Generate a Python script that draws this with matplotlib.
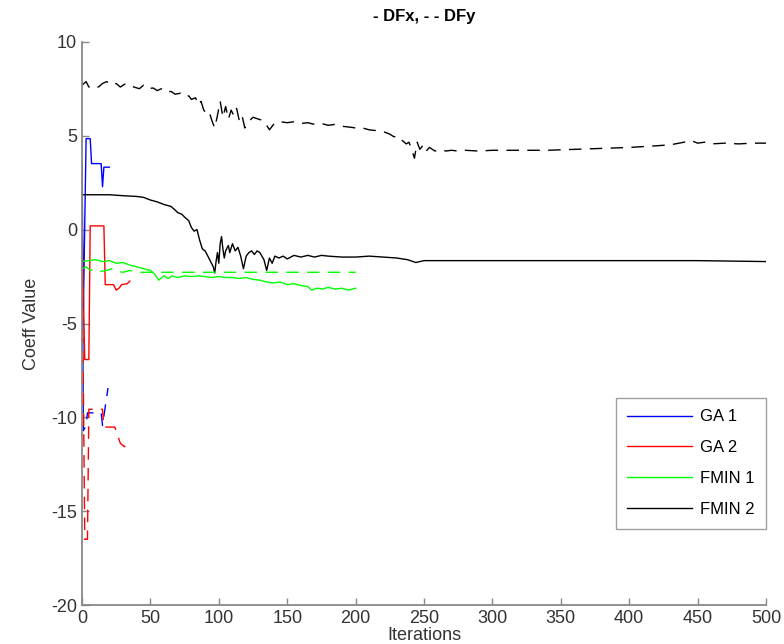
import matplotlib.pyplot as plt

# FMIN 2 (black)
fmin2_dfx_x = [0, 10, 20, 30, 40, 45, 50, 55, 60, 65, 68, 70, 73, 75, 78, 80, 82, 84, 86, 88,
               90, 92, 94, 96, 97, 98, 99, 100, 101, 102, 103, 104, 105, 107, 108, 110, 112,
               114, 116, 118, 120, 122, 124, 126, 128, 130, 133, 135, 137, 139, 141, 144, 147,
               150, 155, 160, 165, 170, 175, 180, 190, 200, 210, 220, 230, 238, 244, 250, 270,
               300, 350, 400, 450, 500]
fmin2_dfx_y = [1.86, 1.86, 1.86, 1.81, 1.77, 1.72, 1.58, 1.48, 1.34, 1.24, 1.05, 0.91, 0.82,
               0.67, 0.48, 0.11, -0.08, 0.01, -0.56, -1.03, -1.13, -1.41, -1.70, -1.98, -2.31,
               -1.70, -1.22, -1.79, -0.75, -0.37, -1.03, -1.51, -1.13, -0.84, -1.22, -0.75,
               -1.13, -0.94, -1.41, -2.08, -1.41, -1.22, -1.13, -1.32, -1.13, -1.22, -1.60,
               -2.17, -1.51, -1.79, -1.41, -1.51, -1.41, -1.56, -1.37, -1.46, -1.37, -1.46,
               -1.37, -1.41, -1.46, -1.46, -1.41, -1.46, -1.51, -1.60, -1.75, -1.65, -1.65,
               -1.65, -1.65, -1.65, -1.65, -1.70]
fmin2_dfy_x = [0, 3, 5, 8, 12, 15, 18, 22, 25, 28, 32, 35, 38, 42, 45, 48, 52, 55, 58, 62, 65,
               68, 72, 75, 78, 80, 83, 85, 87, 89, 91, 93, 95, 97, 99, 101, 103, 105, 107, 109,
               111, 113, 115, 117, 119, 121, 125, 129, 133, 137, 141, 145, 150, 155, 160, 165,
               170, 175, 180, 185, 190, 195, 200, 205, 210, 215, 220, 225, 228, 231, 234, 237,
               239, 241, 243, 245, 247, 249, 251, 254, 258, 262, 266, 270, 275, 280, 290, 300,
               320, 340, 360, 380, 400, 420, 430, 440, 445, 450, 455, 460, 470, 480, 490, 500]
fmin2_dfy_y = [7.70, 7.89, 7.60, 7.70, 7.60, 7.79, 7.89, 7.70, 7.79, 7.60, 7.79, 7.70, 7.60,
               7.51, 7.70, 7.51, 7.55, 7.41, 7.51, 7.32, 7.37, 7.22, 7.27, 7.08, 7.13, 6.94,
               7.03, 6.65, 6.84, 6.37, 6.18, 6.27, 5.80, 5.42, 6.08, 6.84, 5.99, 6.56, 5.89,
               6.37, 6.08, 6.46, 5.80, 6.08, 5.42, 5.70, 5.99, 5.89, 5.80, 5.32, 5.70, 5.75,
               5.70, 5.75, 5.66, 5.70, 5.61, 5.66, 5.56, 5.61, 5.51, 5.47, 5.42, 5.42, 5.32,
               5.28, 5.23, 5.09, 4.95, 4.99, 4.76, 4.57, 4.66, 4.28, 3.81, 4.66, 4.28, 4.47,
               4.14, 4.38, 4.19, 4.28, 4.19, 4.23, 4.19, 4.23, 4.19, 4.23, 4.23, 4.23, 4.28,
               4.33, 4.38, 4.47, 4.52, 4.66, 4.76, 4.61, 4.66, 4.57, 4.61, 4.57, 4.61, 4.61]

# FMIN 1 (green)
fmin1_dfx_x = [0, 5, 10, 15, 20, 25, 30, 35, 40, 45, 50, 53, 56, 60, 63, 66, 70, 75, 80, 85,
               90, 95, 100, 105, 110, 115, 120, 125, 130, 135, 140, 145, 150, 155, 160, 165,
               168, 172, 176, 180, 185, 190, 195, 200]
fmin1_dfx_y = [-1.70, -1.65, -1.60, -1.70, -1.65, -1.79, -1.75, -1.89, -1.98, -2.08, -2.17,
               -2.36, -2.69, -2.46, -2.60, -2.46, -2.55, -2.46, -2.50, -2.46, -2.50, -2.55,
               -2.50, -2.55, -2.55, -2.60, -2.55, -2.65, -2.69, -2.79, -2.84, -2.79, -2.93,
               -2.88, -2.98, -3.03, -3.22, -3.12, -3.17, -3.07, -3.17, -3.12, -3.22, -3.12]
fmin1_dfy_x = [0, 3, 6, 10, 14, 18, 22, 26, 30, 35, 40, 50, 100, 150, 200]
fmin1_dfy_y = [-2.08, -1.98, -2.17, -2.08, -2.22, -2.17, -2.08, -2.22, -2.27, -2.17, -2.27,
               -2.27, -2.27, -2.27, -2.27]

# GA 1 (blue)
ga1_dfx_x = [0, 1, 3, 6, 7, 14, 15, 16, 20]
ga1_dfx_y = [3.52, -4.36, 4.85, 4.85, 3.52, 3.52, 2.29, 3.33, 3.33]
ga1_dfy_x = [0, 1, 3, 4, 14, 15, 19]
ga1_dfy_y = [0.86, -10.71, -10.43, -9.76, -9.76, -10.43, -8.44]

# GA 2 (red)
ga2_dfx_x = [0, 2, 5, 6, 16, 17, 23, 25, 27, 29, 33, 35]
ga2_dfx_y = [0.20, -6.92, -6.92, 0.20, 0.20, -2.93, -2.93, -3.22, -3.12, -2.93, -2.88, -2.74]
ga2_dfy_x = [0, 2, 4, 5, 15, 16, 24, 28, 31, 34]
ga2_dfy_y = [0.20, -16.50, -16.50, -9.57, -9.57, -10.52, -10.52, -11.38, -11.57, -11.28]

plt.rcParams['font.family'] = ['Liberation Sans', 'DejaVu Sans']
plt.rcParams['axes.unicode_minus'] = False

fig = plt.figure(figsize=(7.84, 6.44), dpi=100)
ax = fig.add_axes([82 / 784, 1 - 605 / 644, (766 - 82) / 784, (605 - 42) / 644])

dash = (9, 6)
lw = 1.0
ax.plot(ga1_dfx_x, ga1_dfx_y, color='blue', lw=lw, label='GA 1')
ax.plot(ga2_dfx_x, ga2_dfx_y, color='red', lw=lw, label='GA 2')
ax.plot(fmin1_dfx_x, fmin1_dfx_y, color='#00ff00', lw=lw, label='FMIN 1')
ax.plot(fmin2_dfx_x, fmin2_dfx_y, color='black', lw=lw, label='FMIN 2')
ax.plot(ga1_dfy_x, ga1_dfy_y, color='blue', lw=lw, dashes=dash)
ax.plot(ga2_dfy_x, ga2_dfy_y, color='red', lw=lw, dashes=dash)
ax.plot(fmin1_dfy_x, fmin1_dfy_y, color='#00ff00', lw=lw, dashes=dash)
ax.plot(fmin2_dfy_x, fmin2_dfy_y, color='black', lw=lw, dashes=dash)

ax.set_xlim(0, 500)
ax.set_ylim(-20, 10)
ax.set_xticks(range(0, 501, 50))
ax.set_yticks(range(-20, 11, 5))

for s in ['top', 'right']:
    ax.spines[s].set_visible(False)
for s in ['left', 'bottom']:
    ax.spines[s].set_color('#888888')
    ax.spines[s].set_linewidth(1.3)
ax.tick_params(direction='in', length=5, width=1, color='#888888',
               labelcolor='#333333', labelsize=13)

ax.set_xlabel('Iterations', fontsize=13, color='#333333', labelpad=0)
ax.set_ylabel('Coeff Value', fontsize=13, color='#333333', labelpad=8)
ax.set_title('- DFx, - - DFy', fontsize=12, fontweight='bold', pad=15)

leg = ax.legend(loc='upper right', bbox_to_anchor=(1.0, 0.368), borderaxespad=0,
                fontsize=12, fancybox=False, handlelength=3.9, labelspacing=0.95,
                handletextpad=0.45, borderpad=0.7)
leg.get_frame().set_edgecolor('#888888')
leg.get_frame().set_linewidth(1.0)

fig.savefig('out.png', dpi=100)
